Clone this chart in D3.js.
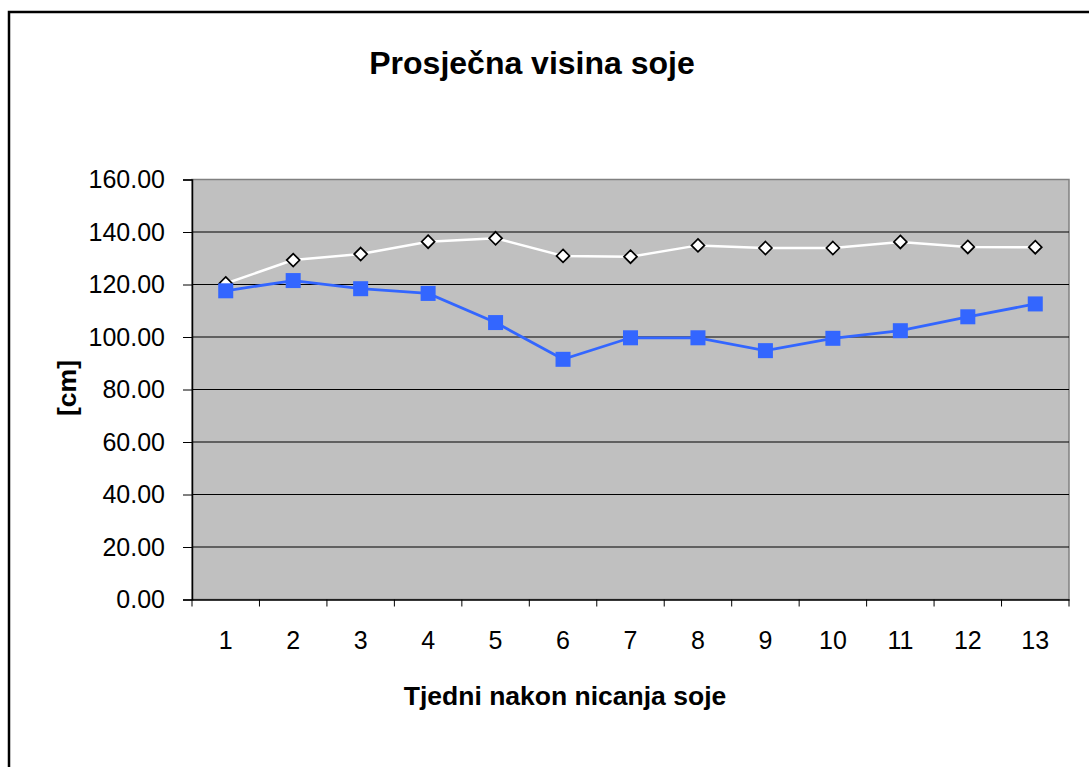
<!DOCTYPE html>
<html><head><meta charset="utf-8">
<script src="https://cdn.jsdelivr.net/npm/d3@7/dist/d3.min.js"></script>
<style>body{margin:0;background:#fff}svg{display:block}text{font-family:"Liberation Sans",Arial,sans-serif}</style>
</head><body>
<script>
const weeks = ["1","2","3","4","5","6","7","8","9","10","11","12","13"];
const seriesWhite = [120.4,129.3,131.6,136.3,137.6,130.9,130.6,134.9,133.9,133.9,136.2,134.3,134.2];
const seriesBlue = [117.6,121.5,118.4,116.6,105.5,91.5,99.7,99.7,94.8,99.5,102.4,107.7,112.6];
const yTicks = [0,20,40,60,80,100,120,140,160];

const W = 1089, H = 767;
const svg = d3.select("body").append("svg").attr("width", W).attr("height", H);
const L = 192, R = 1069, T = 179.5, B = 599.5;

svg.append("rect").attr("x", 9).attr("y", 12).attr("width", W + 10).attr("height", H + 10)
  .attr("fill", "#fff").attr("stroke", "#000").attr("stroke-width", 2.5);

const x = d3.scaleBand().domain(weeks).range([L, R]).padding(0);
const y = d3.scaleLinear().domain([0, 160]).range([B, T]);

svg.append("rect").attr("x", L).attr("y", T).attr("width", R - L).attr("height", B - T)
  .attr("fill", "#c0c0c0").attr("stroke", "#808080").attr("stroke-width", 1.5);

svg.append("g").selectAll("line").data(yTicks.filter(d => d > 0 && d < 160)).join("line")
  .attr("x1", L).attr("x2", R).attr("y1", d => y(d)).attr("y2", d => y(d))
  .attr("stroke", "#000").attr("stroke-width", 1);

const yAxis = svg.append("g").attr("transform", `translate(${L},0)`)
  .call(d3.axisLeft(y).tickValues(yTicks).tickFormat(d3.format(".2f")).tickSize(9).tickPadding(18));
yAxis.attr("font-size", 25).attr("font-family", "Liberation Sans, Arial, sans-serif");
yAxis.select(".domain").attr("stroke", "#000").attr("stroke-width", 1.5);
yAxis.selectAll(".tick line").attr("stroke", "#000");
yAxis.selectAll("text").attr("fill", "#000");

const xAxis = svg.append("g").attr("transform", `translate(0,${B})`)
  .call(d3.axisBottom(x).tickSize(0).tickPadding(32));
xAxis.attr("font-size", 25).attr("font-family", "Liberation Sans, Arial, sans-serif");
xAxis.select(".domain").attr("stroke", "#000").attr("stroke-width", 1.5);
xAxis.selectAll("text").attr("fill", "#000");
const bounds = weeks.map(d => x(d)).concat([R]);
svg.append("g").selectAll("line").data(bounds).join("line")
  .attr("x1", d => d).attr("x2", d => d).attr("y1", B).attr("y2", B + 7)
  .attr("stroke", "#000").attr("stroke-width", 1);

const cx = d => x(d) + x.bandwidth() / 2;
const line = d3.line().x((d, i) => cx(weeks[i])).y(d => y(d));

svg.append("path").datum(seriesWhite).attr("d", line).attr("fill", "none")
  .attr("stroke", "#fff").attr("stroke-width", 2.5);
svg.append("path").datum(seriesBlue).attr("d", line).attr("fill", "none")
  .attr("stroke", "#3366ff").attr("stroke-width", 2.8);

svg.append("g").selectAll("path").data(seriesWhite).join("path")
  .attr("transform", (d, i) => `translate(${cx(weeks[i])},${y(d)})`)
  .attr("d", "M0,-6.5L6.5,0L0,6.5L-6.5,0Z").attr("fill", "#fff").attr("stroke", "#000").attr("stroke-width", 1.7);

svg.append("g").selectAll("rect").data(seriesBlue).join("rect")
  .attr("x", (d, i) => cx(weeks[i]) - 7.5).attr("y", d => y(d) - 7.5)
  .attr("width", 15).attr("height", 15).attr("fill", "#3366ff");

svg.append("text").attr("x", 532).attr("y", 74).attr("text-anchor", "middle")
  .attr("font-size", 32).attr("font-weight", "bold").text("Prosječna visina soje");
svg.append("text").attr("x", 565).attr("y", 705).attr("text-anchor", "middle")
  .attr("font-size", 26.5).attr("font-weight", "bold").text("Tjedni nakon nicanja soje");
svg.append("text").attr("transform", "translate(76,388) rotate(-90)").attr("text-anchor", "middle")
  .attr("font-size", 26.5).attr("font-weight", "bold").text("[cm]");
</script>
</body></html>
